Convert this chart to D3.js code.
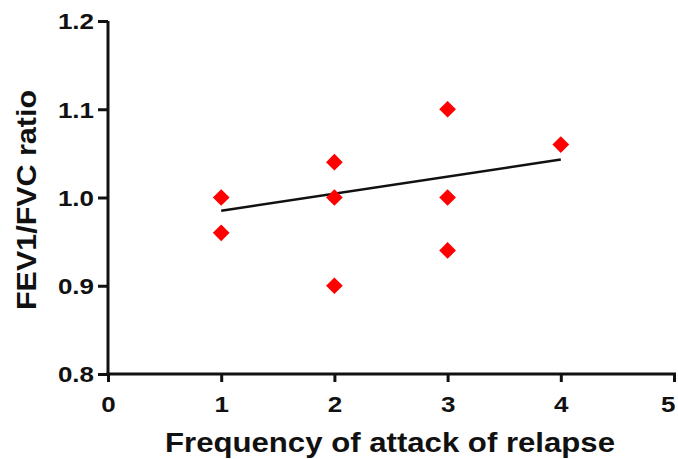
<!DOCTYPE html>
<html><head><meta charset="utf-8">
<script src="https://cdn.jsdelivr.net/npm/d3@7"></script>
<style>body{margin:0;background:#fff}svg{display:block}text{font-family:"Liberation Sans",Arial,sans-serif;font-weight:bold;fill:#111}</style>
</head><body>
<svg id="c" width="678" height="459"></svg>
<script>
const xVals = [1, 1, 2, 2, 2, 3, 3, 3, 4];
const yVals = [1.00, 0.96, 1.04, 1.00, 0.90, 1.10, 1.00, 0.94, 1.06];
const fitX = [1, 4];
const fitY = [0.985, 1.043];
const xTicks = [0, 1, 2, 3, 4, 5];
const yTicks = [0.8, 0.9, 1.0, 1.1, 1.2];

const svg = d3.select("#c");
const x = d3.scaleLinear().domain([0, 5]).range([108, 674]);
const y = d3.scaleLinear().domain([0.8, 1.2]).range([374, 21]);

function stretch(sel, f) {
  sel.each(function () {
    const w = this.getComputedTextLength();
    d3.select(this).attr("textLength", w * f).attr("lengthAdjust", "spacingAndGlyphs");
  });
}

const gx = svg.append("g").attr("transform", "translate(0,374)")
  .call(d3.axisBottom(x).tickValues(xTicks).tickFormat(d3.format("d")).tickSize(8).tickSizeOuter(0));
const gy = svg.append("g").attr("transform", "translate(108,0)")
  .call(d3.axisLeft(y).tickValues(yTicks).tickFormat(d3.format(".1f")).tickSize(10).tickSizeOuter(0));
[gx, gy].forEach(g => {
  g.attr("font-family", null).attr("font-size", null);
  g.select(".domain").attr("stroke", "#111").attr("stroke-width", 3);
  g.selectAll(".tick line").attr("stroke", "#111").attr("stroke-width", 3);
  g.selectAll(".tick text").style("font-size", "22px").style("font-weight", "bold").attr("fill", "#111");
});
gx.select(".domain").attr("d", `M${x(0)-1.5},0H${x(5)+2}`);
gy.select(".domain").attr("d", `M0,${y(1.2)}V${y(0.8)+1.5}`);
gx.selectAll(".tick text").attr("y", 38).attr("dy", null);
gy.selectAll(".tick text").attr("x", -14).attr("dy", "0.36em");
stretch(gx.selectAll(".tick text"), 1.18);
stretch(gy.selectAll(".tick text"), 1.18);
// keep last x label inside the frame
gx.selectAll(".tick text").filter(d => d === 5).attr("text-anchor", "end").attr("dx", 1);

svg.append("line")
  .attr("x1", x(fitX[0])).attr("y1", y(fitY[0]))
  .attr("x2", x(fitX[1])).attr("y2", y(fitY[1]))
  .attr("stroke", "#111").attr("stroke-width", 2.5);

const diamond = d3.symbol().type(d3.symbolSquare).size(140);
svg.append("g").selectAll("path").data(xVals.map((v, i) => [v, yVals[i]])).join("path")
  .attr("d", diamond)
  .attr("transform", d => `translate(${x(d[0])},${y(d[1])}) rotate(45)`)
  .attr("fill", "#ff0000");

svg.append("text").attr("x", 390).attr("y", 452).attr("text-anchor", "middle")
  .style("font-size", "27px").attr("textLength", 450).attr("lengthAdjust", "spacingAndGlyphs")
  .text("Frequency of attack of relapse");
svg.append("text").attr("transform", "translate(36,200) rotate(-90)").attr("text-anchor", "middle")
  .style("font-size", "27px").attr("textLength", 220).attr("lengthAdjust", "spacingAndGlyphs")
  .text("FEV1/FVC ratio");
</script>
</body></html>
